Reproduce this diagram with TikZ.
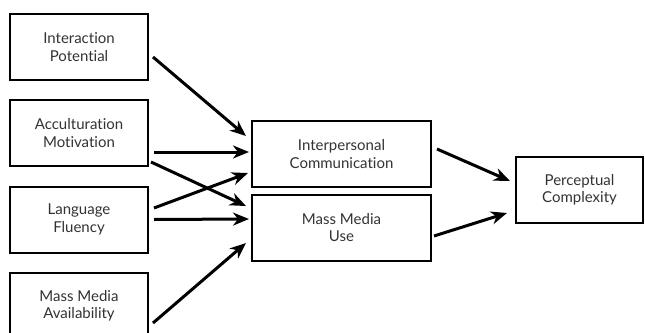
\documentclass[tikz,border=0pt]{standalone}
\usepackage{fontspec}
\setmainfont{Lato}[Ligatures=NoCommon]
\usetikzlibrary{arrows.meta,calc}
\definecolor{txt}{HTML}{333333}
\begin{document}
\begin{tikzpicture}[x=1pt,y=-1pt,
  box/.style={draw=black,line width=2pt,rectangle,minimum height=66pt,inner sep=0pt,
    align=center,text=txt,font=\fontsize{15}{17.5}\selectfont},
  arr/.style={line width=3pt,-{Stealth[length=16pt,width=13pt,inset=5pt]}}]
\clip (0,0) rectangle (645,332);
\fill[white] (0,0) rectangle (645,332);
\node[box,minimum width=138pt] (b1) at (79,47) {Interaction\\Potential};
\node[box,minimum width=138pt] (b2) at (79,133) {Acculturation\\Motivation};
\node[box,minimum width=138pt] (b3) at (79,219.5) {Language\\Fluency};
\node[box,minimum width=138pt] (b4) at (79,306) {Mass Media\\Availability};
\node[box,minimum width=179pt] (ic) at (341.5,154) {Interpersonal\\Communication};
\node[box,minimum width=179pt] (mmu) at (341.5,227.5) {Mass Media\\Use};
\node[box,minimum width=127pt] (pc) at (579.5,190) {Perceptual\\Complexity};
\draw[arr] ($(b1.east)+(4,10)$) -- ($(ic.west)+(-5,-18)$);
\draw[arr] ($(b2.east)+(5,19)$) -- ($(ic.west)+(-2,-2)$);
\draw[arr] ($(b2.east)+(2,29)$) -- ($(mmu.west)+(-5,-21.5)$);
\draw[arr] ($(b3.east)+(5,-11.5)$) -- ($(ic.west)+(-3,19)$);
\draw[arr] ($(b3.east)+(5,0)$) -- ($(mmu.west)+(-2,-8.5)$);
\draw[arr] ($(b4.east)+(4,17)$) -- ($(mmu.west)+(-5,15.5)$);
\draw[arr] ($(ic.east)+(5,-5)$) -- ($(pc.west)+(-5,-9)$);
\draw[arr] ($(mmu.east)+(2,8.5)$) -- ($(pc.west)+(-8,23)$);
\end{tikzpicture}
\end{document}
